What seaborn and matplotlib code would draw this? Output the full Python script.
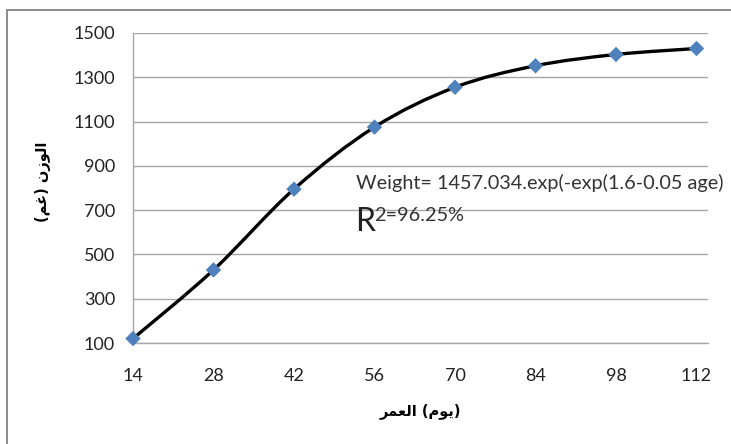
import numpy as np
import pandas as pd
import matplotlib
matplotlib.use("Agg")
import matplotlib.pyplot as plt
from matplotlib.path import Path
from matplotlib.patches import PathPatch, Rectangle
import seaborn as sns

# ---- data ----
age = [14, 28, 42, 56, 70, 84, 98, 112]
weight = [120, 430, 795, 1075, 1255, 1352, 1403, 1430]
x_ticks = [14, 28, 42, 56, 70, 84, 98, 112]
y_ticks = [100, 300, 500, 700, 900, 1100, 1300, 1500]
equation_text = "Weight= 1457.034.exp(-exp(1.6-0.05 age)"
r2_text = "2=96.25%"
# Arabic labels (visual order, presentation forms)
x_label = "\uFEAE\uFEE4\uFECC\uFEDF\uFE8D (\uFEE1\uFEEE\uFEF3)"
y_label = "(\uFEE2\uFECF) \uFEE5\uFEAF\uFEEE\uFEDF\uFE8D"

sns.set_theme(style="white")
plt.rcParams['font.family'] = ['Lato', 'DejaVu Sans']

W, H = 731, 444
fig = plt.figure(figsize=(W / 100, H / 100), dpi=100)
ax = fig.add_axes([133 / W, 1 - 343 / H, (708 - 133) / W, (343 - 33) / H])

df = pd.DataFrame({"age": age, "weight": weight})

# smooth (Excel-style) curve through the points: Catmull-Rom -> cubic Bezier
pts = np.column_stack([df["age"].to_numpy(float), df["weight"].to_numpy(float)])
verts = [tuple(pts[0])]
codes = [Path.MOVETO]
n = len(pts)
for i in range(n - 1):
    p0 = pts[i - 1] if i > 0 else pts[i]
    p1 = pts[i]
    p2 = pts[i + 1]
    p3 = pts[i + 2] if i + 2 < n else pts[i + 1]
    c1 = p1 + (p2 - p0) / 6.0
    c2 = p2 - (p3 - p1) / 6.0
    verts += [tuple(c1), tuple(c2), tuple(p2)]
    codes += [Path.CURVE4] * 3
ax.add_patch(PathPatch(Path(verts, codes), facecolor="none", edgecolor="black",
                       lw=2.4, zorder=3, capstyle="round", clip_on=False))

sns.scatterplot(data=df, x="age", y="weight", marker="D", s=62, color="#4F81BD",
                edgecolor="none", linewidth=0, zorder=4, ax=ax, legend=False,
                clip_on=False)

ax.set_xlim(14, 114)
ax.set_ylim(100, 1500)
ax.set_xticks(x_ticks)
ax.set_yticks(y_ticks)
ax.set_xticklabels([str(v) for v in x_ticks], fontsize=13, color="#222222")
ax.set_yticklabels([str(v) for v in y_ticks], fontsize=13, color="#222222")
ax.yaxis.grid(True, color="#A6A6A6", lw=1.0)
ax.xaxis.grid(False)
ax.set_axisbelow(True)
for s in ["top", "right"]:
    ax.spines[s].set_visible(False)
for s in ["left", "bottom"]:
    ax.spines[s].set_color("#A6A6A6")
    ax.spines[s].set_linewidth(1.0)
ax.tick_params(axis="x", direction="out", length=4, width=1.0, color="#A6A6A6", pad=14)
ax.tick_params(axis="y", direction="out", length=5, width=1.0, color="#A6A6A6", pad=8)
ax.set_xlabel("")
ax.set_ylabel("")

# axis titles (Arabic, bold)
fig.text(420 / W, 1 - 411 / H, x_label, ha="center", va="center", fontsize=10.5,
         fontweight="bold", family=["DejaVu Sans"], color="black")
fig.text(43 / W, 1 - 182 / H, y_label, ha="center", va="center", fontsize=10.5,
         fontweight="bold", family=["DejaVu Sans"], rotation=90, color="black")

# equation annotation
fig.text(356 / W, 1 - 183 / H, equation_text, ha="left", va="center", fontsize=14.3,
         color="#333333")
fig.text(355 / W, 1 - 231 / H, "R", ha="left", va="baseline", fontsize=23, color="#222222")
fig.text(374 / W, 1 - 221 / H, r2_text, ha="left", va="baseline", fontsize=14.3,
         color="#333333")

# outer chart border
fig.add_artist(Rectangle((7 / W, -0.05), 1.2, 1 - 10 / H + 0.05, transform=fig.transFigure,
                         fill=False, edgecolor="#8C8C8C", lw=1.4))

fig.savefig("out.png", dpi=100)
